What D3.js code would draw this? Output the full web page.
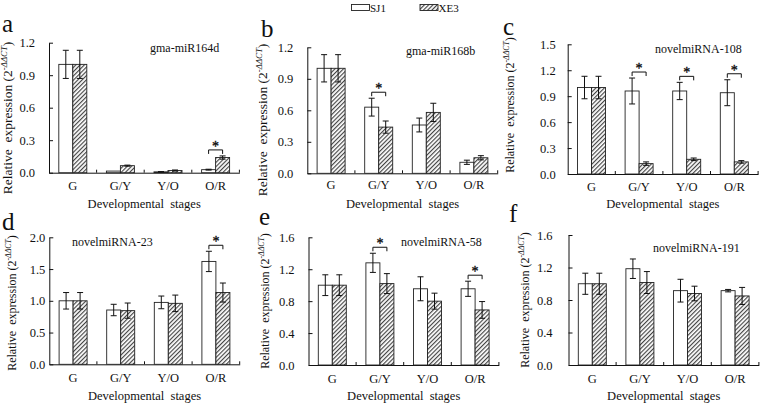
<!DOCTYPE html>
<html><head><meta charset="utf-8">
<script src="https://cdn.jsdelivr.net/npm/d3@7"></script>
<style>
html,body{margin:0;padding:0;background:#fff;}
svg, svg text, svg tspan{font-family:"Liberation Serif","Times New Roman",serif;}
svg text{fill:#111;}
</style></head>
<body>
<svg id="chart" width="760" height="404" font-family="Liberation Serif, Times New Roman, serif"></svg>
<script>
// ---------- data ----------
const stages = ["G", "G/Y", "Y/O", "O/R"];
const series = ["SJ1", "XE3"];
const genes = ["gma-miR164d", "gma-miR168b", "novelmiRNA-108", "novelmiRNA-23", "novelmiRNA-58", "novelmiRNA-191"];
const panelLetters = ["a", "b", "c", "d", "e", "f"];

const sj1_a = [1.0, 0.015, 0.008, 0.028];
const sj1Err_a = [0.13, 0.0, 0.002, 0.004];
const xe3_a = [1.0, 0.065, 0.02, 0.14];
const xe3Err_a = [0.13, 0.005, 0.005, 0.015];

const sj1_b = [1.0, 0.63, 0.46, 0.105];
const sj1Err_b = [0.13, 0.085, 0.066, 0.02];
const xe3_b = [1.0, 0.44, 0.58, 0.148];
const xe3Err_b = [0.13, 0.058, 0.087, 0.02];

const sj1_c = [1.0, 0.96, 0.96, 0.94];
const sj1Err_c = [0.13, 0.15, 0.10, 0.15];
const xe3_c = [1.0, 0.12, 0.17, 0.14];
const xe3Err_c = [0.13, 0.02, 0.015, 0.015];

const sj1_d = [1.0, 0.855, 0.975, 1.62];
const sj1Err_d = [0.13, 0.09, 0.10, 0.16];
const xe3_d = [1.0, 0.845, 0.96, 1.13];
const xe3Err_d = [0.13, 0.12, 0.13, 0.15];

const sj1_e = [1.0, 1.28, 0.955, 0.955];
const sj1Err_e = [0.13, 0.12, 0.15, 0.095];
const xe3_e = [1.0, 1.02, 0.80, 0.69];
const xe3Err_e = [0.13, 0.125, 0.10, 0.105];

const sj1_f = [1.0, 1.185, 0.915, 0.915];
const sj1Err_f = [0.13, 0.12, 0.14, 0.015];
const xe3_f = [1.0, 1.015, 0.88, 0.85];
const xe3Err_f = [0.13, 0.135, 0.09, 0.105];

const yTicks_a = [0.0, 0.3, 0.6, 0.9, 1.2];
const yTicks_b = [0.0, 0.3, 0.6, 0.9, 1.2];
const yTicks_c = [0.0, 0.3, 0.6, 0.9, 1.2, 1.5];
const yTicks_d = [0.0, 0.5, 1.0, 1.5, 2.0];
const yTicks_e = [0.0, 0.4, 0.8, 1.2, 1.6];
const yTicks_f = [0.0, 0.4, 0.8, 1.2, 1.6];

const signif_a = ["O/R"];
const signif_b = ["G/Y"];
const signif_c = ["G/Y", "Y/O", "O/R"];
const signif_d = ["O/R"];
const signif_e = ["G/Y", "O/R"];
const signif_f = [];

const xTitle = "Developmental\u00a0\u00a0stages";
const starMark = "*";

// ---------- layout (positions only) ----------
const layout = [
  {x0: 49,    yb: 172.7, yt: 42.7,  lblGap: 14, letter:[2,32],   title:[150,52],   ytx: 12,  ytc: 118, ytSize: 13.5, catDy: 17,   xtY: 207.5},
  {x0: 307.3, yb: 173.3, yt: 47.3,  lblGap: 14, letter:[261,37], title:[406,55],   ytx: 267, ytc: 120, ytSize: 13.5, catDy: 16,   xtY: 207.5},
  {x0: 567.7, yb: 174,   yt: 44.3,  lblGap: 12, letter:[503,35], title:[655,53],   ytx: 514, ytc: 105, ytSize: 12,   catDy: 17.5, xtY: 207.5},
  {x0: 49.3,  yb: 364.3, yt: 237.3, lblGap: 4,  letter:[2,230],  title:[72,246],   ytx: 16,  ytc: 303, ytSize: 12,   catDy: 18,   xtY: 400},
  {x0: 308.5, yb: 365,   yt: 237.3, lblGap: 14, letter:[259,225],title:[401,246],  ytx: 269, ytc: 301, ytSize: 12,   catDy: 18,   xtY: 400},
  {x0: 568.5, yb: 365,   yt: 235,   lblGap: 16, letter:[509,222],title:[653,252],  ytx: 529, ytc: 300, ytSize: 12,   catDy: 18,   xtY: 400}
];
const bandW = 47.6, barW = 14;
const FONT = "Liberation Serif, Times New Roman, serif";

const panelData = [
  {sj1: sj1_a, sj1Err: sj1Err_a, xe3: xe3_a, xe3Err: xe3Err_a, ticks: yTicks_a, sig: signif_a},
  {sj1: sj1_b, sj1Err: sj1Err_b, xe3: xe3_b, xe3Err: xe3Err_b, ticks: yTicks_b, sig: signif_b},
  {sj1: sj1_c, sj1Err: sj1Err_c, xe3: xe3_c, xe3Err: xe3Err_c, ticks: yTicks_c, sig: signif_c},
  {sj1: sj1_d, sj1Err: sj1Err_d, xe3: xe3_d, xe3Err: xe3Err_d, ticks: yTicks_d, sig: signif_d},
  {sj1: sj1_e, sj1Err: sj1Err_e, xe3: xe3_e, xe3Err: xe3Err_e, ticks: yTicks_e, sig: signif_e},
  {sj1: sj1_f, sj1Err: sj1Err_f, xe3: xe3_f, xe3Err: xe3Err_f, ticks: yTicks_f, sig: signif_f}
];

const svg = d3.select("#chart");
const defs = svg.append("defs");
const pat = defs.append("pattern").attr("id", "hatch")
  .attr("patternUnits", "userSpaceOnUse").attr("width", 3).attr("height", 3)
  .attr("patternTransform", "rotate(45)");
pat.append("rect").attr("width", 3).attr("height", 3).attr("fill", "#fff");
pat.append("line").attr("x1", 0.6).attr("y1", 0).attr("x2", 0.6).attr("y2", 3)
  .attr("stroke", "#3a3a3a").attr("stroke-width", 1.1);

// legend
const leg = svg.append("g");
const legX = [351.5, 420];
series.forEach((s, i) => {
  leg.append("rect").attr("x", legX[i]).attr("y", 4.5).attr("width", 18).attr("height", 6)
    .attr("fill", i === 0 ? "#fff" : "url(#hatch)").attr("stroke", "#222").attr("stroke-width", 0.9);
  leg.append("text").attr("x", legX[i] + 18.5).attr("y", 12).attr("font-size", 11)
    .attr("font-family", FONT).attr("fill", "#111").text(s);
});

layout.forEach((L, pi) => {
  const D = panelData[pi];
  const g = svg.append("g");
  const ymax = D.ticks[D.ticks.length - 1];
  const y = d3.scaleLinear().domain([0, ymax]).range([L.yb, L.yt]);
  const x = d3.scaleBand().domain(stages).range([L.x0, L.x0 + bandW * stages.length]);
  const sub = d3.scaleBand().domain(series).range([-barW, barW]);

  // y axis
  const yAxis = d3.axisLeft(y).tickValues(D.ticks).tickSize(-4).tickSizeOuter(0)
    .tickPadding(L.lblGap).tickFormat(d3.format(".1f"));
  const ya = g.append("g").attr("transform", `translate(${L.x0},0)`).call(yAxis)
    .attr("font-family", FONT);
  ya.selectAll("path,line").attr("stroke", "#111");
  ya.selectAll("text").attr("font-size", 12.5).attr("font-family", FONT).attr("fill", "#111");

  // x axis
  const xAxis = d3.axisBottom(x).tickSize(0).tickSizeOuter(0).tickPadding(L.catDy - 9);
  const xa = g.append("g").attr("transform", `translate(0,${L.yb})`).call(xAxis)
    .attr("font-family", FONT);
  xa.select("path").attr("stroke", "#111");
  xa.selectAll("text").attr("font-size", 12.5).attr("font-family", FONT).attr("fill", "#111");
  // boundary ticks (inward)
  g.selectAll(".bt").data(stages).join("line")
    .attr("x1", d => x(d) + x.bandwidth()).attr("x2", d => x(d) + x.bandwidth())
    .attr("y1", L.yb).attr("y2", L.yb - 3).attr("stroke", "#111");

  // bars
  const rows = stages.map((s, i) => ({stage: s, vals: [
    {ser: "SJ1", v: D.sj1[i], e: D.sj1Err[i]},
    {ser: "XE3", v: D.xe3[i], e: D.xe3Err[i]}]}));
  const cx = s => x(s) + x.bandwidth() / 2;
  rows.forEach(r => {
    r.vals.forEach(b => {
      const bx = cx(r.stage) + sub(b.ser);
      g.append("rect").attr("x", bx).attr("y", y(b.v)).attr("width", sub.bandwidth())
        .attr("height", y(0) - y(b.v))
        .attr("fill", b.ser === "SJ1" ? "#fff" : "url(#hatch)")
        .attr("stroke", "#222").attr("stroke-width", 0.9);
      if (b.e > 0) {
        const mx = bx + sub.bandwidth() / 2;
        const eg = g.append("g").attr("stroke", "#111").attr("stroke-width", 1);
        eg.append("line").attr("x1", mx).attr("x2", mx).attr("y1", y(b.v + b.e)).attr("y2", y(b.v - b.e));
        eg.append("line").attr("x1", mx - 3).attr("x2", mx + 3).attr("y1", y(b.v + b.e)).attr("y2", y(b.v + b.e));
        eg.append("line").attr("x1", mx - 3).attr("x2", mx + 3).attr("y1", y(b.v - b.e)).attr("y2", y(b.v - b.e));
      }
    });
    if (D.sig.includes(r.stage)) {
      const top = Math.max(...r.vals.map(b => b.v + b.e));
      const by = y(top) - 6;
      const x1 = cx(r.stage) + sub("SJ1") + sub.bandwidth() / 2;
      const x2 = cx(r.stage) + sub("XE3") + sub.bandwidth() / 2;
      g.append("path").attr("d", `M${x1},${by + 4}V${by}H${x2}V${by + 4}`)
        .attr("fill", "none").attr("stroke", "#111").attr("stroke-width", 1);
      g.append("text").attr("x", (x1 + x2) / 2).attr("y", by + 1).attr("text-anchor", "middle")
        .attr("font-size", 14).attr("font-family", FONT)
        .attr("fill", "#111").attr("stroke", "#111").attr("stroke-width", 0.35)
        .text(starMark);
    }
  });

  // gene title
  g.append("text").attr("x", L.title[0]).attr("y", L.title[1]).attr("font-size", 12)
    .attr("font-family", FONT).attr("fill", "#111").text(genes[pi]);
  // panel letter
  g.append("text").attr("x", L.letter[0]).attr("y", L.letter[1]).attr("font-size", 25)
    .attr("font-family", FONT).attr("fill", "#111").text(panelLetters[pi]);
  // x title
  g.append("text").attr("x", L.x0 + bandW * 2).attr("y", L.xtY).attr("text-anchor", "middle")
    .attr("font-size", 12.5).attr("font-family", FONT).attr("fill", "#111").text(xTitle);
  // y title
  const yt = g.append("text").attr("transform", `translate(${L.ytx},${L.ytc}) rotate(-90)`)
    .attr("text-anchor", "middle").attr("font-size", L.ytSize).attr("font-family", FONT).attr("fill", "#333");
  yt.append("tspan").text("Relative\u00a0\u00a0expression\u00a0(2");
  yt.append("tspan").attr("dy", -L.ytSize * 0.38).attr("font-size", L.ytSize * 0.65).attr("font-style", "italic").text("-ΔΔCT");
  yt.append("tspan").attr("dy", L.ytSize * 0.38).text(")");
});
</script>
</body></html>
